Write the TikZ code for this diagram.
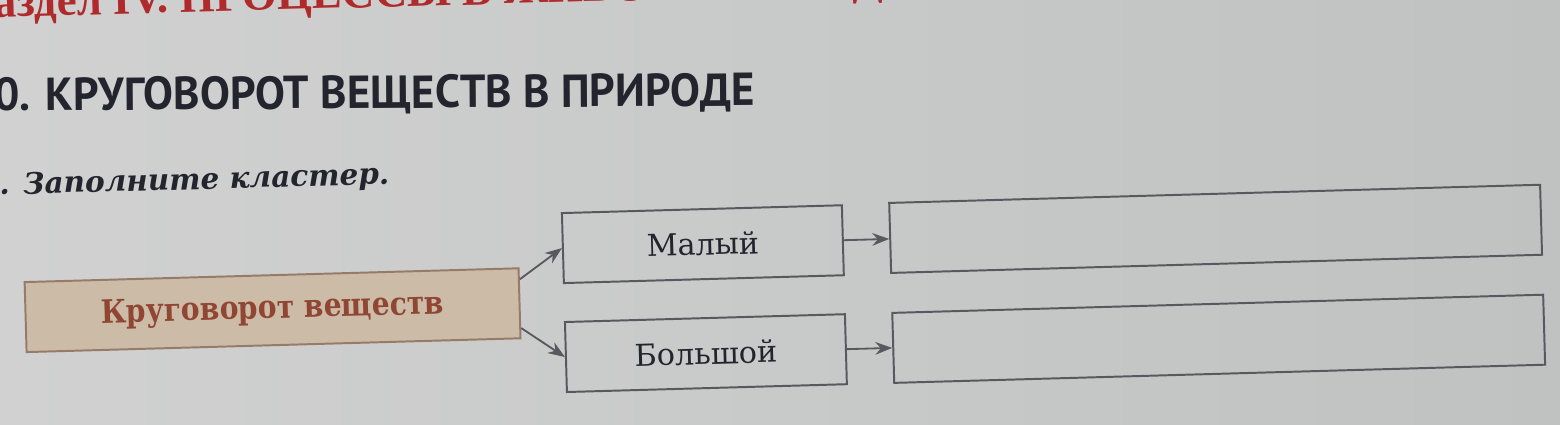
\documentclass[tikz,border=0pt]{standalone}
\usepackage{fontspec}
\setmainfont{DejaVu Serif}
\newfontfamily\headfont{PT Sans}
\newfontfamily\partfont{Liberation Serif}
\usetikzlibrary{arrows.meta}

\definecolor{paperlight}{RGB}{208,209,208}
\definecolor{paperdark}{RGB}{192,194,194}
\definecolor{boxline}{RGB}{88,88,94}
\definecolor{beige}{RGB}{203,187,167}
\definecolor{beigeline}{RGB}{150,124,104}
\definecolor{brick}{RGB}{145,70,52}
\definecolor{ink}{RGB}{36,36,46}
\definecolor{partred}{RGB}{176,42,44}

\tikzset{
  cell/.style={draw=boxline, line width=1.4pt, inner sep=0pt,
    minimum height=1.75cm, font=\fontsize{21.5}{24}\selectfont, text=ink},
  link/.style={draw=boxline, line width=1.3pt,
    -{Stealth[length=12pt, width=9pt]}},
}

\begin{document}
\begin{tikzpicture}[x=0.025cm, y=-0.025cm]
	\fill[left color=paperlight, right color=paperdark] (0,0) rectangle (1560,425);
	\useasboundingbox (0,0) rectangle (1560,425);
	\clip (0,0) rectangle (1560,425);

	% running head and title
	\node[anchor=base west, inner sep=0pt, text=partred, rotate=1.5,
	  font=\partfont\bfseries\fontsize{32}{32}\selectfont] (part) at (-33,18)
	  {Раздел IV. ПРОЦЕССЫ В ЖИВОЙ ПРИРОДЕ};
	\node[anchor=base west, inner sep=0pt, text=ink, rotate=0.4] (title) at (-6,111)
	  {\resizebox{19cm}{0.825cm}{\headfont\bfseries 0. КРУГОВОРОТ ВЕЩЕСТВ В ПРИРОДЕ}};

	\begin{scope}[rotate around={1.6:(780,212)}, transform shape]
	  \node[anchor=base west, inner sep=0pt, text=ink,
	    font=\bfseries\itshape\fontsize{21}{24}\selectfont] (task) at (0,173)
	    {. Заполните кластер.};

	  % cluster
	  \node[cell, draw=beigeline, fill=beige, minimum width=12.35cm, text=brick,
	    font=\bfseries\fontsize{23}{26}\selectfont] (cycle) at (270,296)
	    {\scalebox{0.87}[1]{Круговорот веществ}};
	  \node[cell, minimum width=7cm] (small) at (702,242) {Малый};
	  \node[cell, minimum width=7cm] (big) at (702,351) {Большой};
	  \node[cell, minimum width=16.275cm] (smallans) at (1215,241) {};
	  \node[cell, minimum width=16.275cm] (bigans) at (1215,351) {};

	  \draw[link] ([yshift=-0.3cm]cycle.north east) -- (small.west);
	  \draw[link] ([yshift=0.28cm]cycle.south east) -- (big.west);
	  \draw[link] (small.east) -- (smallans.west |- small.east);
	  \draw[link] (big.east) -- (bigans.west |- big.east);
	\end{scope}
\end{tikzpicture}
\end{document}
